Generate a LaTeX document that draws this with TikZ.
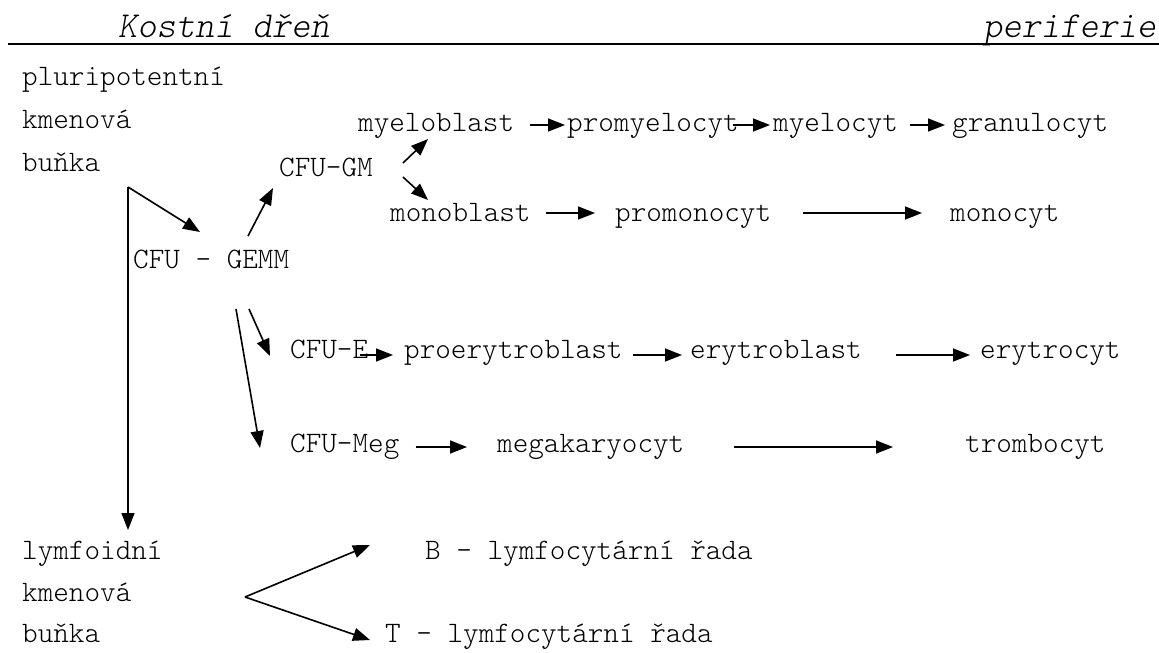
\documentclass[tikz,border=0pt]{standalone}
\usepackage{fontspec}
\newfontfamily\monolight{lmmonolt10-regular.otf}[ItalicFont=lmmonolt10-oblique.otf]
\usetikzlibrary{arrows.meta}
\begin{document}
\begin{tikzpicture}[x=1pt,y=-1pt,
  lbl/.style={inner sep=0pt, anchor=base west, font=\monolight\fontsize{29.7}{34}\selectfont},
  head/.style={inner sep=0pt, anchor=base west, font=\monolight\itshape\fontsize{36.6}{40}\selectfont},
  arr/.style={line width=1.6pt, -{Triangle[length=17pt,width=13pt]}}]
\useasboundingbox (0,0) rectangle (1159,653);

% heading and rule
\node[head] (bone) at (118,37) {Kostní dřeň};
\node[head] (peri) at (983,37) {periferie};
\coordinate (ruleL) at (8,44);
\coordinate (ruleR) at (1159,44);
\draw[line width=2.4pt] (ruleL) -- (ruleR);

% stem cells
\node[lbl] (plu1) at (22,85) {pluripotentní};
\node[lbl] (plu2) at (22,128) {kmenová};
\node[lbl] (plu3) at (22,171) {buňka};
\node[lbl] (lym1) at (22,559) {lymfoidní};
\node[lbl] (lym2) at (22,601) {kmenová};
\node[lbl] (lym3) at (22,642) {buňka};

% progenitors
\node[lbl] (gemm) at (133,268) {CFU - GEMM};
\node[lbl] (gm)   at (279,176) {CFU-GM};
\node[lbl] (cfue) at (290,358) {CFU-E};
\node[lbl] (meg)  at (290,452) {CFU-Meg};

% granulocyte line
\node[lbl] (myb)  at (358,131) {myeloblast};
\node[lbl] (prom) at (567,131) {promyelocyt};
\node[lbl] (myc)  at (773,131) {myelocyt};
\node[lbl] (gran) at (952,131) {granulocyt};

% monocyte line
\node[lbl] (monb) at (390,221) {monoblast};
\node[lbl] (pmon) at (615,221) {promonocyt};
\node[lbl] (mono) at (950,221) {monocyt};

% erythrocyte line
\node[lbl] (pery) at (404,358) {proerytroblast};
\node[lbl] (eryb) at (690,358) {erytroblast};
\node[lbl] (eryc) at (980,358) {erytrocyt};

% thrombocyte line
\node[lbl] (mgk)  at (497,452) {megakaryocyt};
\node[lbl] (trom) at (965,452) {trombocyt};

% lymphocyte lines
\node[lbl] (blym) at (425,559) {B - lymfocytární řada};
\node[lbl] (tlym) at (385,642) {T – lymfocytární řada};

% branching points
\coordinate (stem) at (128,187);
\coordinate (fork) at (245,597);

% pluripotent stem cell branches
\draw[arr] (stem) -- ([shift={(67pt,36pt)}]gemm.base west);
\draw[arr] (stem) -- ([shift={(106pt,29pt)}]lym1.base west);

% CFU-GEMM branches
\draw[arr] ([shift={(115pt,32pt)}]gemm.base west) -- ([shift={(-6pt,-12pt)}]gm.base west);
\draw[arr] ([shift={(116pt,-41pt)}]gemm.base west) -- ([shift={(-20pt,2pt)}]cfue.base west);
\draw[arr] ([shift={(103pt,-41pt)}]gemm.base west) -- ([shift={(-30pt,4pt)}]meg.base west);

% CFU-GM branches
\draw[arr] ([shift={(30pt,13pt)}]gm.base east) -- ([shift={(70pt,-8pt)}]myb.base west);
\draw[arr] ([shift={(30pt,-1pt)}]gm.base east) -- ([shift={(38pt,21pt)}]monb.base west);

% granulocyte maturation
\draw[arr] ([shift={(16pt,6pt)}]myb.base east) -- ([shift={(-2pt,6pt)}]prom.base west);
\draw[arr] ([shift={(-6pt,6pt)}]prom.base east) -- ([shift={(-3pt,6pt)}]myc.base west);
\draw[arr] ([shift={(12pt,6pt)}]myc.base east) -- ([shift={(-7pt,6pt)}]gran.base west);

% monocyte maturation
\draw[arr] ([shift={(15pt,8pt)}]monb.base east) -- ([shift={(-20pt,8pt)}]pmon.base west);
\draw[arr] ([shift={(32pt,8pt)}]pmon.base east) -- ([shift={(-28pt,8pt)}]mono.base west);

% erythrocyte maturation
\draw[arr] ([shift={(-8pt,3pt)}]cfue.base east) -- ([shift={(-11pt,3pt)}]pery.base west);
\draw[arr] ([shift={(10pt,3pt)}]pery.base east) -- ([shift={(-8pt,3pt)}]eryb.base west);
\draw[arr] ([shift={(34pt,3pt)}]eryb.base east) -- ([shift={(-10pt,3pt)}]eryc.base west);

% thrombocyte maturation
\draw[arr] ([shift={(16pt,5pt)}]meg.base east) -- ([shift={(-30pt,5pt)}]mgk.base west);
\draw[arr] ([shift={(49pt,5pt)}]mgk.base east) -- ([shift={(-72pt,5pt)}]trom.base west);

% lymphoid fork
\draw[arr] (fork) -- ([shift={(-55pt,14pt)}]blym.base west);
\draw[arr] (fork) -- ([shift={(-15pt,2pt)}]tlym.base west);
\end{tikzpicture}
\end{document}
